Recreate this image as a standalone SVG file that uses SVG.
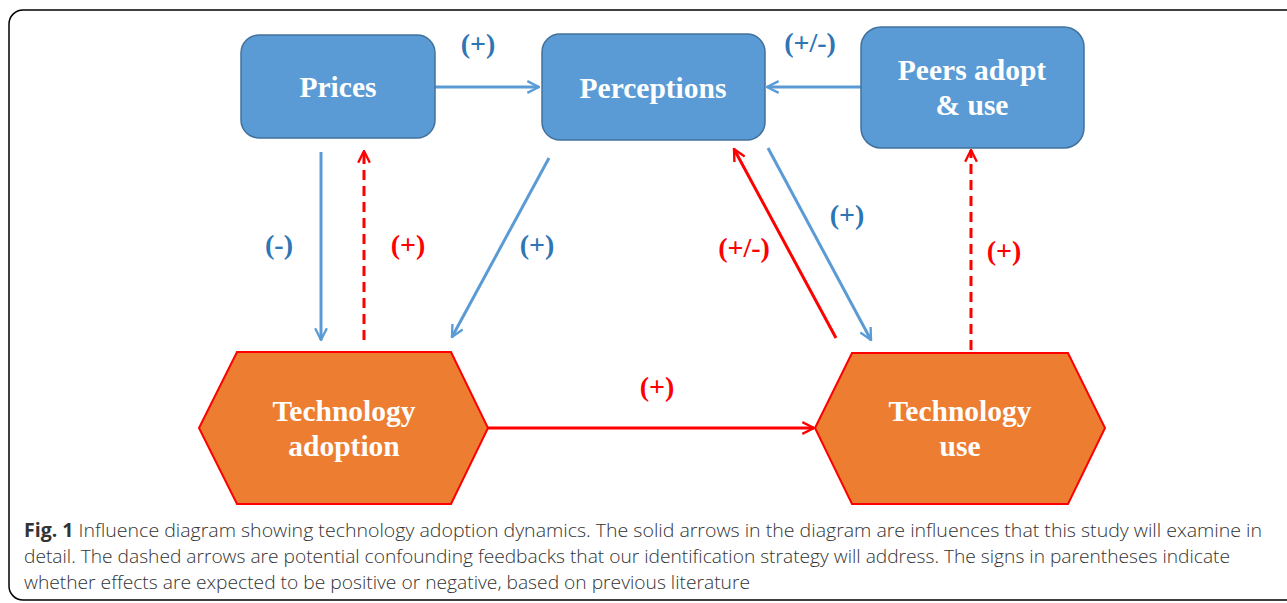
<svg xmlns="http://www.w3.org/2000/svg" width="1287" height="603" viewBox="0 0 1287 603">
<style>
.box{fill:#5B9BD5;stroke:#41719C;stroke-width:1.5}
.hex{fill:#ED7D31;stroke:#FF0000;stroke-width:2}
.nt{font-family:"Liberation Serif",serif;font-weight:bold;font-size:29.5px;fill:#FFFFFF;text-anchor:middle}
.lb{font-family:"Liberation Serif",serif;font-weight:bold;font-size:28px;text-anchor:middle}
.lblue{fill:#2E75B6}
.lred{fill:#FF0000}
.cb{stroke:#5B9BD5;stroke-width:3;fill:none}
.cr{stroke:#FF0000;stroke-width:3;fill:none}
.dash{stroke-dasharray:10,6}
.cap{font-family:"Open Sans","Noto Sans",sans-serif;font-weight:300;font-size:19px;fill:#333333}
</style>
<defs>
<marker id="ab" viewBox="0 0 12 12" refX="11" refY="6" markerWidth="14" markerHeight="14" markerUnits="userSpaceOnUse" orient="auto">
<path d="M1,1 L11,6 L1,11" fill="none" stroke="#5B9BD5" stroke-width="2"/>
</marker>
<marker id="ar" viewBox="0 0 12 12" refX="11" refY="6" markerWidth="14" markerHeight="14" markerUnits="userSpaceOnUse" orient="auto">
<path d="M1,1 L11,6 L1,11" fill="none" stroke="#FF0000" stroke-width="2"/>
</marker>
</defs>
<rect x="9" y="10" width="1300" height="590" rx="14" fill="#FFFFFF" stroke="#000000" stroke-width="1.5"/>

<g id="connectors">
<line class="cb" x1="435" y1="87" x2="539" y2="87" marker-end="url(#ab)"/>
<line class="cb" x1="861" y1="87" x2="767" y2="87" marker-end="url(#ab)"/>
<line class="cb" x1="321" y1="152" x2="321" y2="340" marker-end="url(#ab)"/>
<line class="cr dash" x1="364" y1="340" x2="364" y2="151" marker-end="url(#ar)"/>
<line class="cb" x1="549" y1="158" x2="452" y2="337" marker-end="url(#ab)"/>
<line class="cr" x1="836" y1="338" x2="734" y2="149" marker-end="url(#ar)"/>
<line class="cb" x1="768" y1="148" x2="871" y2="340" marker-end="url(#ab)"/>
<line class="cr dash" x1="971" y1="350" x2="971" y2="150" marker-end="url(#ar)"/>
<line class="cr" x1="488" y1="428" x2="814" y2="428" marker-end="url(#ar)"/>
<text class="lb lblue" x="478" y="53">(+)</text>
<text class="lb lblue" x="810" y="52">(+/-)</text>
<text class="lb lblue" x="279" y="254">(-)</text>
<text class="lb lred" x="408" y="254">(+)</text>
<text class="lb lblue" x="537" y="254">(+)</text>
<text class="lb lred" x="744" y="257">(+/-)</text>
<text class="lb lblue" x="847" y="224">(+)</text>
<text class="lb lred" x="1004" y="260">(+)</text>
<text class="lb lred" x="657" y="396">(+)</text>
</g>

<g id="prices">
<rect class="box" x="241" y="35" width="194" height="103" rx="18"/>
<text class="nt" x="338" y="97">Prices</text>
</g>
<g id="perceptions">
<rect class="box" x="542" y="34" width="223" height="106" rx="18"/>
<text class="nt" x="653" y="98">Perceptions</text>
</g>
<g id="peers">
<rect class="box" x="861" y="27" width="223" height="121" rx="20"/>
<text class="nt" x="972" y="80">Peers adopt</text>
<text class="nt" x="972" y="115">&amp; use</text>
</g>
<g id="tech-adoption">
<polygon class="hex" points="199,428 237,352 451,352 488,428 451,504 237,504"/>
<text class="nt" x="344" y="421">Technology</text>
<text class="nt" x="344" y="456">adoption</text>
</g>
<g id="tech-use">
<polygon class="hex" points="815,428 852,353 1068,353 1105,428 1068,504 852,504"/>
<text class="nt" x="960" y="421">Technology</text>
<text class="nt" x="960" y="456">use</text>
</g>

<g id="caption">
<text class="cap" x="24" y="537" textLength="1238" lengthAdjust="spacingAndGlyphs"><tspan font-weight="bold">Fig. 1</tspan> Influence diagram showing technology adoption dynamics. The solid arrows in the diagram are influences that this study will examine in</text>
<text class="cap" x="24" y="563" textLength="1206" lengthAdjust="spacingAndGlyphs">detail. The dashed arrows are potential confounding feedbacks that our identification strategy will address. The signs in parentheses indicate</text>
<text class="cap" x="24" y="589" textLength="726" lengthAdjust="spacingAndGlyphs">whether effects are expected to be positive or negative, based on previous literature</text>
</g>
</svg>
